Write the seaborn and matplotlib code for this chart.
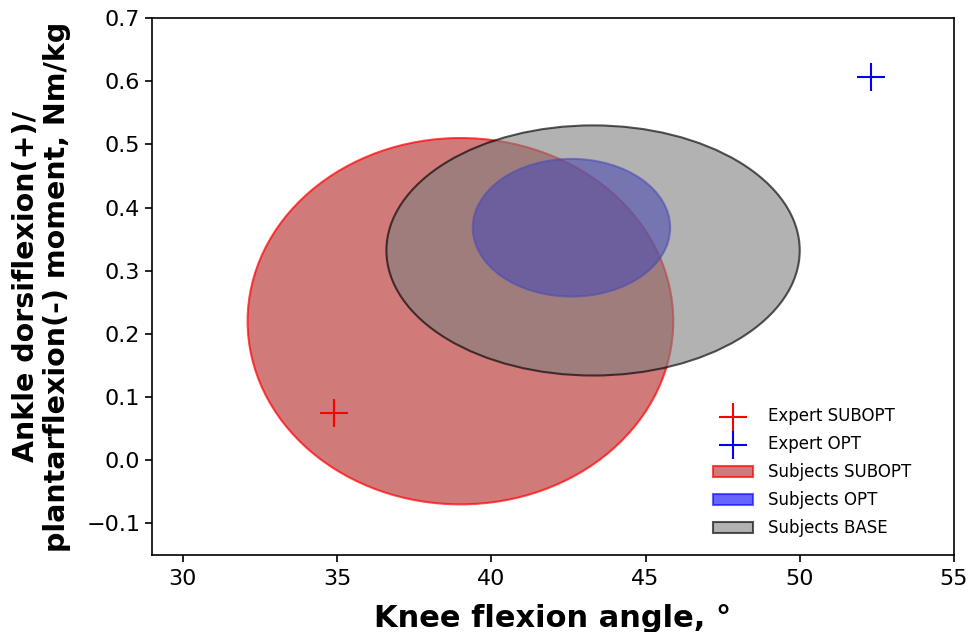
import matplotlib
matplotlib.use("Agg")
import matplotlib.pyplot as plt
from matplotlib.patches import Ellipse
import seaborn as sns

# Expert points (knee flexion angle, ankle moment)
expert_labels = ["Expert SUBOPT", "Expert OPT"]
expert_x = [34.9, 52.3]
expert_y = [0.075, 0.607]
expert_colors = ["red", "blue"]

# Subject groups: ellipse centre and full width/height
subject_labels = ["Subjects SUBOPT", "Subjects OPT", "Subjects BASE"]
subject_cx = [39.0, 42.6, 43.3]
subject_cy = [0.22, 0.368, 0.332]
subject_w = [13.8, 6.4, 13.4]
subject_h = [0.58, 0.218, 0.396]
subject_face = [(0.70, 0.13, 0.13, 0.6), (0.0, 0.0, 1.0, 0.6), (0.5, 0.5, 0.5, 0.6)]
subject_edge = [(1.0, 0.0, 0.0, 0.7), (0.0, 0.0, 1.0, 0.6), (0.0, 0.0, 0.0, 0.65)]

sns.set_style("ticks", {"axes.edgecolor": "black", "text.color": "black",
                        "axes.labelcolor": "black", "xtick.color": "black",
                        "ytick.color": "black"})
plt.rcParams["font.family"] = ["DejaVu Sans"]

fig, ax = plt.subplots(figsize=(9.68, 6.32), dpi=100)
fig.subplots_adjust(left=0.157, right=0.9855, top=0.9715, bottom=0.122)

for lab, x, y, c in zip(expert_labels, expert_x, expert_y, expert_colors):
    sns.scatterplot(x=[x], y=[y], marker="+", color=c, s=380, linewidth=1.5,
                    label=lab, legend=False, ax=ax, zorder=3)

for lab, cx, cy, w, h, fc, ec in zip(subject_labels, subject_cx, subject_cy,
                                      subject_w, subject_h, subject_face, subject_edge):
    ax.add_patch(Ellipse((cx, cy), w, h, facecolor=fc, edgecolor=ec,
                         linewidth=1.5, label=lab))

ax.set_xlim(29, 55)
ax.set_ylim(-0.15, 0.7)
ax.set_xticks([30, 35, 40, 45, 50, 55])
ax.set_yticks([-0.1, 0.0, 0.1, 0.2, 0.3, 0.4, 0.5, 0.6, 0.7])
ax.tick_params(labelsize=16, length=5, width=1.2, colors="black")
ax.tick_params(axis="x", pad=5)
for s in ax.spines.values():
    s.set_linewidth(1.2)
    s.set_color("black")
    s.set_visible(True)

ax.set_xlabel("Knee flexion angle, °", fontsize=22, fontweight="bold", labelpad=11)
ax.set_ylabel("Ankle dorsiflexion(+)/\nplantarflexion(-) moment, Nm/kg",
              fontsize=20.5, fontweight="bold", linespacing=1.15)
ax.yaxis.set_label_coords(-0.101, 0.5)

ax.legend(loc="lower right", frameon=False, fontsize=12,
          handlelength=2.4, handletextpad=0.9, labelspacing=0.6,
          bbox_to_anchor=(0.966, 0.005))

fig.savefig("out.png", dpi=100)
